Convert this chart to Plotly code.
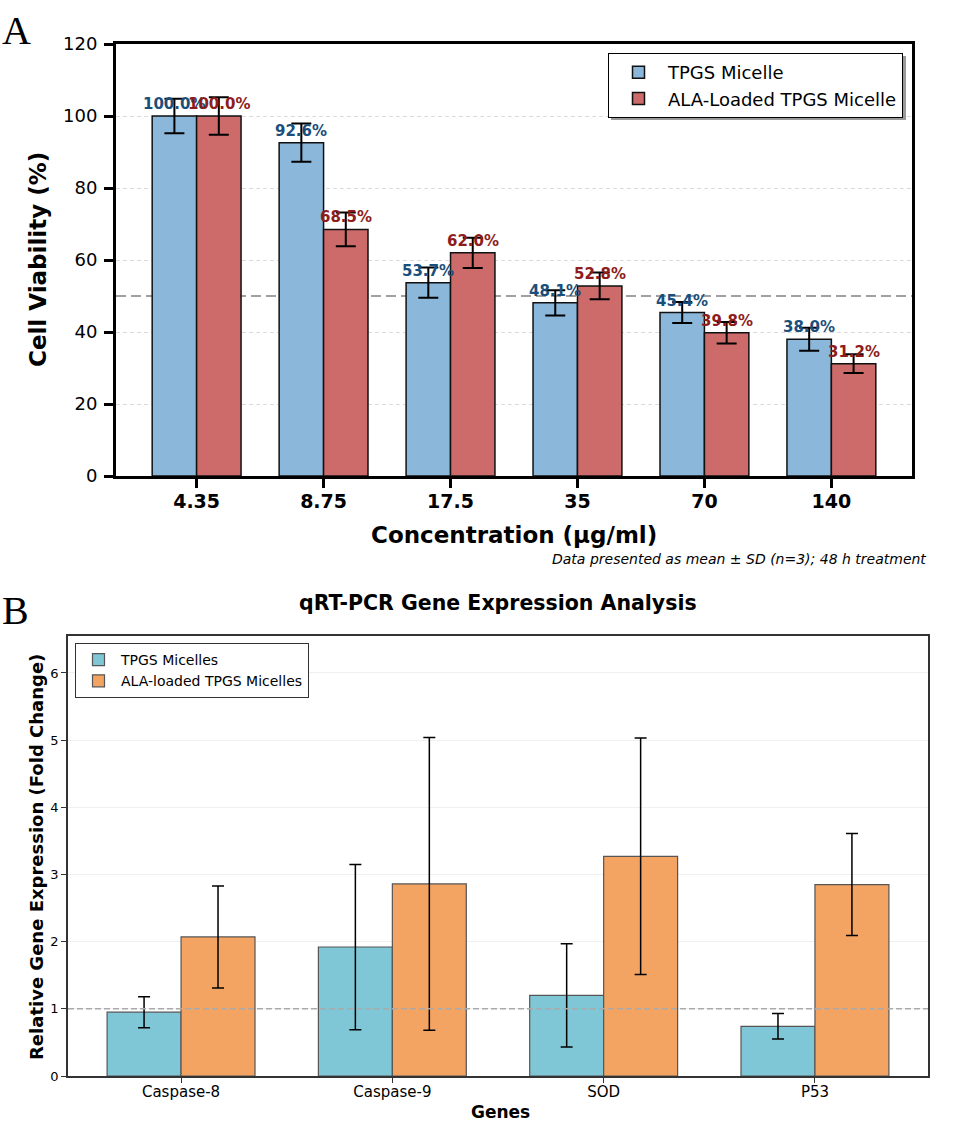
import numpy as np
import plotly.graph_objects as go

W, H = 957, 1147

# ---------------- Panel A data ----------------
conc_labels = ["4.35", "8.75", "17.5", "35", "70", "140"]
tpgs_viab = [100.0, 92.6, 53.7, 48.1, 45.4, 38.0]
tpgs_viab_sd = [4.8, 5.3, 4.2, 3.5, 2.9, 3.2]
ala_viab = [100.0, 68.5, 62.0, 52.8, 39.8, 31.2]
ala_viab_sd = [5.2, 4.7, 4.2, 3.7, 3.0, 2.6]
viab_ref = 50

# ---------------- Panel B data ----------------
genes = ["Caspase-8", "Caspase-9", "SOD", "P53"]
tpgs_fold = [0.95, 1.92, 1.20, 0.74]
tpgs_fold_sd = [0.23, 1.23, 0.77, 0.19]
ala_fold = [2.07, 2.86, 3.27, 2.85]
ala_fold_sd = [0.76, 2.18, 1.76, 0.76]
fold_ref = 1

FONT = "DejaVu Sans"
BAR_W = 0.35


def fx(p):
    return p / W


def fy(p):
    return 1 - p / H


fig = go.Figure()

xa = np.arange(len(conc_labels))
xb = np.arange(len(genes))

# Panel A bars
fig.add_trace(go.Bar(
    x=xa - BAR_W / 2, y=tpgs_viab, width=BAR_W, name="TPGS Micelle",
    marker=dict(color="#8AB7DA", line=dict(color="#111111", width=1.5)),
    error_y=dict(type="data", array=tpgs_viab_sd, color="black", thickness=2, width=10),
    xaxis="x", yaxis="y", legend="legend",
))
fig.add_trace(go.Bar(
    x=xa + BAR_W / 2, y=ala_viab, width=BAR_W, name="ALA-Loaded TPGS Micelle",
    marker=dict(color="#CD6A6A", line=dict(color="#111111", width=1.5)),
    error_y=dict(type="data", array=ala_viab_sd, color="black", thickness=2, width=10),
    xaxis="x", yaxis="y", legend="legend",
))

# Panel B bars
fig.add_trace(go.Bar(
    x=xb - BAR_W / 2, y=tpgs_fold, width=BAR_W, name="TPGS Micelles",
    marker=dict(color="#7FC7D7", line=dict(color="#555555", width=1.2)),
    error_y=dict(type="data", array=tpgs_fold_sd, color="black", thickness=1.5, width=6),
    xaxis="x2", yaxis="y2", legend="legend2",
))
fig.add_trace(go.Bar(
    x=xb + BAR_W / 2, y=ala_fold, width=BAR_W, name="ALA-loaded TPGS Micelles",
    marker=dict(color="#F4A462", line=dict(color="#555555", width=1.2)),
    error_y=dict(type="data", array=ala_fold_sd, color="black", thickness=1.5, width=6),
    xaxis="x2", yaxis="y2", legend="legend2",
))

annotations = []
# value labels panel A
for i, v in enumerate(tpgs_viab):
    annotations.append(dict(x=i - BAR_W / 2, y=v, xref="x", yref="y", text=f"{v:.1f}%",
                            showarrow=False, yanchor="middle", yshift=12,
                            font=dict(family=FONT, size=15, color="#1B4F7B", weight="bold")))
for i, v in enumerate(ala_viab):
    annotations.append(dict(x=i + BAR_W / 2, y=v, xref="x", yref="y", text=f"{v:.1f}%",
                            showarrow=False, yanchor="middle", yshift=12,
                            font=dict(family=FONT, size=15, color="#8E1C1C", weight="bold")))

# Panel letters
annotations.append(dict(x=fx(0), y=fy(31), xref="paper", yref="paper", text="A", showarrow=False,
                        xanchor="left", yanchor="middle",
                        font=dict(family="Liberation Serif", size=40, color="black")))
annotations.append(dict(x=fx(0), y=fy(610), xref="paper", yref="paper", text="B", showarrow=False,
                        xanchor="left", yanchor="middle",
                        font=dict(family="Liberation Serif", size=40, color="black")))

# Axis titles panel A
annotations.append(dict(x=fx(38), y=fy(260), xref="paper", yref="paper", text="Cell Viability (%)",
                        showarrow=False, textangle=-90, xanchor="center", yanchor="middle",
                        font=dict(family=FONT, size=23, color="black", weight="bold")))
annotations.append(dict(x=fx(514), y=fy(535), xref="paper", yref="paper", text="Concentration (μg/ml)",
                        showarrow=False, xanchor="center", yanchor="middle",
                        font=dict(family=FONT, size=23, color="black", weight="bold")))
annotations.append(dict(x=fx(928), y=fy(559), xref="paper", yref="paper",
                        text="<i>Data presented as mean ± SD (n=3); 48 h treatment</i>",
                        showarrow=False, xanchor="right", yanchor="middle",
                        font=dict(family=FONT, size=14, color="black")))

# Panel B titles
annotations.append(dict(x=fx(498), y=fy(603), xref="paper", yref="paper",
                        text="qRT-PCR Gene Expression Analysis",
                        showarrow=False, xanchor="center", yanchor="middle",
                        font=dict(family=FONT, size=20.5, color="black", weight="bold")))
annotations.append(dict(x=fx(36), y=fy(857), xref="paper", yref="paper",
                        text="Relative Gene Expression (Fold Change)",
                        showarrow=False, textangle=-90, xanchor="center", yanchor="middle",
                        font=dict(family=FONT, size=18, color="black", weight="bold")))
annotations.append(dict(x=fx(500), y=fy(1112), xref="paper", yref="paper", text="Genes",
                        showarrow=False, xanchor="center", yanchor="middle",
                        font=dict(family=FONT, size=17, color="black", weight="bold")))

shapes = [
    # legend shadow A
    dict(type="rect", xref="paper", yref="paper", x0=fx(611), x1=fx(906), y0=fy(120), y1=fy(56),
         fillcolor="#9a9a9a", line=dict(width=0), layer="above"),
    # reference lines
    dict(type="line", xref="x domain", x0=0, x1=1, yref="y", y0=viab_ref, y1=viab_ref,
         line=dict(color="#a0a0a0", width=2, dash="10px,5px"), layer="below"),
    dict(type="line", xref="x2 domain", x0=0, x1=1, yref="y2", y0=fold_ref, y1=fold_ref,
         line=dict(color="#aaaaaa", width=1.5, dash="6px,3px"), layer="above"),
]

fig.update_layout(
    width=W, height=H,
    autosize=False,
    margin=dict(l=0, r=0, t=0, b=0, pad=0, autoexpand=False),
    paper_bgcolor="white", plot_bgcolor="white",
    barmode="overlay",
    font=dict(family=FONT, color="black"),
    annotations=annotations,
    shapes=shapes,
    xaxis=dict(
        domain=[fx(116), fx(912)], range=[-0.635, len(conc_labels) - 1 + 0.635],
        tickvals=list(xa), ticktext=conc_labels, automargin=False,
        tickfont=dict(family=FONT, size=19, color="black", weight="bold"),
        ticklabelstandoff=-3,
        showline=True, mirror=True, linewidth=3, linecolor="black",
        ticks="outside", ticklen=9, tickwidth=2.5, tickcolor="black",
        showgrid=False, zeroline=False, anchor="y",
    ),
    yaxis=dict(
        domain=[fy(476), fy(44)], range=[0, 120], dtick=20, automargin=False,
        tickfont=dict(family=FONT, size=18, color="black"), ticklabelstandoff=3,
        showline=True, mirror=True, linewidth=3, linecolor="black",
        ticks="outside", ticklen=9, tickwidth=2.5, tickcolor="black",
        showgrid=True, gridcolor="#dcdcdc", gridwidth=1, griddash="4px,3px",
        zeroline=False, anchor="x",
    ),
    xaxis2=dict(
        domain=[fx(68), fx(928)], range=[-0.535, len(genes) - 1 + 0.535],
        tickvals=list(xb), ticktext=genes, automargin=False,
        tickfont=dict(family=FONT, size=15, color="black"), ticklabelstandoff=-4,
        showline=True, mirror=True, linewidth=1.5, linecolor="#333333",
        ticks="outside", ticklen=5, tickwidth=1, tickcolor="#333333",
        showgrid=False, zeroline=False, anchor="y2",
    ),
    yaxis2=dict(
        domain=[fy(1076), fy(636)], range=[0, 6.55], dtick=1, automargin=False,
        tickfont=dict(family=FONT, size=13, color="black"),
        showline=True, mirror=True, linewidth=1.5, linecolor="#333333",
        ticks="outside", ticklen=5, tickwidth=1, tickcolor="#333333",
        showgrid=True, gridcolor="#f0f0f0", gridwidth=1,
        zeroline=False, anchor="x2",
    ),
    legend=dict(
        x=fx(903), xanchor="right", y=fy(53), yanchor="top",
        bgcolor="white", bordercolor="black", borderwidth=1,
        font=dict(family=FONT, size=18, color="black"), itemwidth=49,
    ),
    legend2=dict(
        x=fx(75), xanchor="left", y=fy(643), yanchor="top",
        bgcolor="white", bordercolor="#333333", borderwidth=1,
        font=dict(family=FONT, size=14, color="black"), itemwidth=35,
    ),
    showlegend=True,
)

fig.write_html("out.html")
